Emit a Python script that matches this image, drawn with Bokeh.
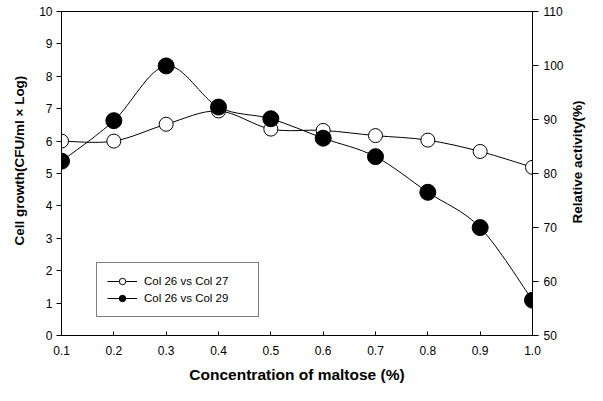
import math
from bokeh.plotting import figure
from bokeh.layouts import row
from bokeh.models import (Range1d, LinearAxis, FixedTicker, Legend, LegendItem,
                          NumeralTickFormatter, ColumnDataSource, Title)
from bokeh.embed import file_html
from bokeh.resources import INLINE

# ---- data ----
conc = [0.1, 0.2, 0.3, 0.4, 0.5, 0.6, 0.7, 0.8, 0.9, 1.0]
col26_vs_col27 = [6.0, 6.0, 6.52, 6.93, 6.37, 6.33, 6.17, 6.03, 5.68, 5.19]
col26_vs_col29 = [5.38, 6.63, 8.32, 7.05, 6.69, 6.09, 5.52, 4.42, 3.33, 1.09]
x_ticks = [0.1, 0.2, 0.3, 0.4, 0.5, 0.6, 0.7, 0.8, 0.9, 1.0]
left_ticks = [0, 1, 2, 3, 4, 5, 6, 7, 8, 9, 10]
right_ticks = [50, 60, 70, 80, 90, 100, 110]
labels = ["Col 26 vs Col 27", "Col 26 vs Col 29"]
x_title = "Concentration of maltose (%)"
left_title = "Cell growth(CFU/ml \u00d7 Log)"
right_title = "Relative activity(%)"

FONT = "Liberation Sans"


def smooth_segments(xs, ys):
    """Catmull-Rom spline through the data points, as cubic Bezier segments."""
    n = len(xs)
    d = dict(x0=[], y0=[], x1=[], y1=[], cx0=[], cy0=[], cx1=[], cy1=[])
    for i in range(n - 1):
        a = max(i - 1, 0)
        b = min(i + 2, n - 1)
        d["x0"].append(xs[i]); d["y0"].append(ys[i])
        d["x1"].append(xs[i + 1]); d["y1"].append(ys[i + 1])
        d["cx0"].append(xs[i] + (xs[i + 1] - xs[a]) / 6.0)
        d["cy0"].append(ys[i] + (ys[i + 1] - ys[a]) / 6.0)
        d["cx1"].append(xs[i + 1] - (xs[b] - xs[i]) / 6.0)
        d["cy1"].append(ys[i + 1] - (ys[b] - ys[i]) / 6.0)
    return ColumnDataSource(d)


p = figure(width=566, height=385, output_backend="svg", toolbar_location=None,
           x_range=Range1d(x_ticks[0], x_ticks[-1]),
           y_range=Range1d(left_ticks[0], left_ticks[-1]),
           min_border_left=60, min_border_right=30, min_border_top=11,
           min_border_bottom=50)
p.extra_y_ranges = {"right": Range1d(right_ticks[0], right_ticks[-1])}
p.grid.visible = False
p.outline_line_color = "black"
p.outline_line_width = 1
p.background_fill_color = "white"
p.border_fill_color = "white"

# x axis
p.xaxis.ticker = FixedTicker(ticks=x_ticks)
p.xaxis.formatter = NumeralTickFormatter(format="0.0")
p.xaxis.major_tick_in = 4
p.xaxis.major_tick_out = 0
p.xaxis.minor_tick_line_color = None
p.xaxis.major_label_standoff = 10
p.xaxis.axis_label = x_title
p.xaxis.axis_label_standoff = 8

# left y axis
p.yaxis.ticker = FixedTicker(ticks=left_ticks)
p.yaxis.major_tick_in = 0
p.yaxis.major_tick_out = 5
p.yaxis.minor_tick_line_color = None
p.yaxis.major_label_standoff = 4

# right y axis (its title is drawn in the narrow strip to the right)
ra = LinearAxis(y_range_name="right", ticker=FixedTicker(ticks=right_ticks))
ra.major_tick_in = 0
ra.major_tick_out = 6
ra.minor_tick_line_color = None
ra.major_label_standoff = 5
p.add_layout(ra, "right")

for ax in [p.xaxis[0], p.yaxis[0], ra]:
    ax.axis_line_color = "black"
    ax.major_tick_line_color = "black"
    ax.major_label_text_font = FONT
    ax.major_label_text_font_size = "12px"
    ax.major_label_text_color = "black"
    ax.axis_label_text_font = FONT
    ax.axis_label_text_font_size = "15.5px"
    ax.axis_label_text_font_style = "bold"
    ax.axis_label_text_color = "black"

# left title, sitting a little above the centre like the reference
lt = Title(text=left_title, align="left", offset=90, standoff=19,
           text_font=FONT, text_font_size="13.5px", text_font_style="bold",
           text_color="black")
p.add_layout(lt, "left")

# curves
src27 = smooth_segments(conc, col26_vs_col27)
src29 = smooth_segments(conc, col26_vs_col29)
c27 = p.bezier(x0="x0", y0="y0", x1="x1", y1="y1", cx0="cx0", cy0="cy0",
               cx1="cx1", cy1="cy1", source=src27, line_color="black", line_width=1)
c29 = p.bezier(x0="x0", y0="y0", x1="x1", y1="y1", cx0="cx0", cy0="cy0",
               cx1="cx1", cy1="cy1", source=src29, line_color="black", line_width=1)
m27 = p.scatter(conc, col26_vs_col27, marker="circle", size=14,
                fill_color="white", line_color="black", line_width=1)
m29 = p.scatter(conc, col26_vs_col29, marker="circle", size=16,
                fill_color="black", line_color="black", line_width=1)

legend = Legend(items=[LegendItem(label=labels[0], renderers=[c27, m27]),
                       LegendItem(label=labels[1], renderers=[c29, m29])],
                location=(35, 18))
legend.border_line_color = "black"
legend.border_line_width = 1
legend.background_fill_color = "white"
legend.background_fill_alpha = 1
legend.label_text_font = FONT
legend.label_text_font_size = "11.5px"
legend.label_text_color = "black"
legend.glyph_width = 30
legend.glyph_height = 16
legend.label_height = 16
legend.spacing = 1
legend.padding = 10
legend.margin = 0
legend.label_standoff = 7
legend.label_width = 104
p.add_layout(legend, "center")

# narrow strip on the right holding the right-hand title (reads bottom-to-top)
p2 = figure(width=21, height=385, output_backend="svg", toolbar_location=None,
            x_axis_location=None, y_axis_location=None,
            min_border_left=0, min_border_right=0, min_border_top=11,
            min_border_bottom=50)
p2.outline_line_color = None
p2.background_fill_color = "white"
p2.border_fill_color = "white"
p2.grid.visible = False
rt = Title(text=right_title, align="left", offset=112, standoff=2,
           text_font=FONT, text_font_size="13.5px", text_font_style="bold",
           text_color="black")
p2.add_layout(rt, "left")

open("out.html", "w").write(file_html(row(p, p2), INLINE))
